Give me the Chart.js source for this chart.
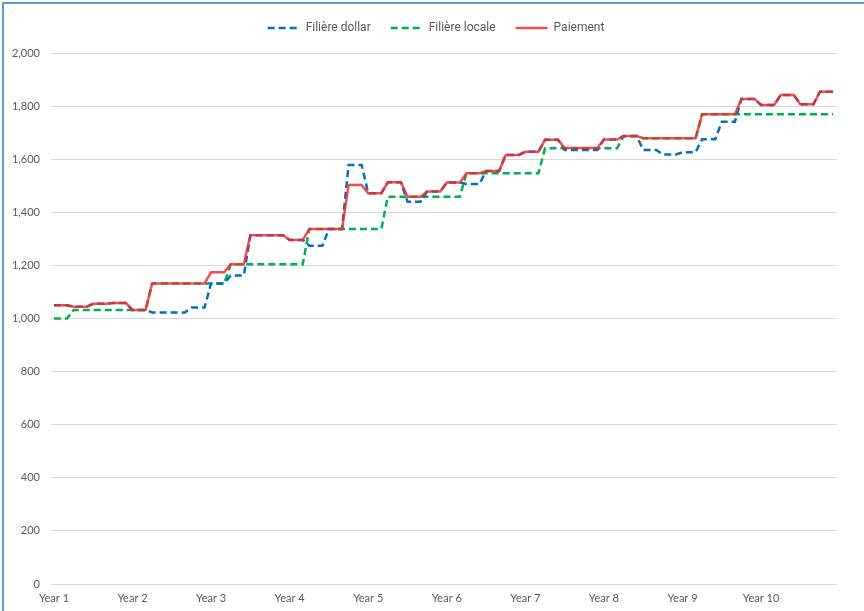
<!DOCTYPE html>
<html>
<head>
<meta charset="utf-8">
<script src="https://cdn.jsdelivr.net/npm/chart.js@4.4.1/dist/chart.umd.min.js"></script>
<style>
  html, body { margin: 0; padding: 0; background: #fff; }
  #wrap { position: absolute; left: 0; top: 0; width: 864px; height: 611px; }
  #frame {
    position: absolute; left: 2px; top: 2px; width: 862px; height: 609px;
    border-left: 2px solid #5b9bd5; border-top: 2px solid #5b9bd5;
    box-sizing: border-box; pointer-events: none;
  }
</style>
</head>
<body>
<div id="wrap"><canvas id="chart" width="864" height="611"></canvas></div>
<div id="frame"></div>
<script>
// monthly values, one row per year
const filiereDollar = [
  1050, 1050, 1050, 1044, 1044, 1044, 1056, 1056, 1056, 1058, 1058, 1058,
  1032, 1032, 1032, 1023, 1023, 1023, 1023, 1023, 1023, 1041, 1041, 1041,
  1132, 1132, 1132, 1162, 1162, 1162, 1314, 1314, 1314, 1314, 1314, 1314,
  1296, 1296, 1296, 1274, 1274, 1274, 1337, 1337, 1337, 1578, 1578, 1578,
  1472, 1472, 1472, 1513, 1513, 1513, 1440, 1440, 1440, 1478, 1478, 1478,
  1512, 1512, 1512, 1507, 1507, 1507, 1556, 1556, 1556, 1616, 1616, 1616,
  1628, 1628, 1628, 1673, 1673, 1673, 1635, 1635, 1635, 1635, 1635, 1635,
  1674, 1674, 1674, 1687, 1687, 1687, 1635, 1635, 1635, 1618, 1618, 1618,
  1626, 1626, 1626, 1675, 1675, 1675, 1741, 1741, 1741, 1827, 1827, 1827,
  1804, 1804, 1804, 1842, 1842, 1842, 1807, 1807, 1807, 1854, 1854, 1854
];

const filiereLocale = [
  1000, 1000, 1000, 1032, 1032, 1032, 1032, 1032, 1032, 1032, 1032, 1032,
  1032, 1032, 1032, 1132, 1132, 1132, 1132, 1132, 1132, 1132, 1132, 1132,
  1132, 1132, 1132, 1204, 1204, 1204, 1204, 1204, 1204, 1204, 1204, 1204,
  1204, 1204, 1204, 1337, 1337, 1337, 1337, 1337, 1337, 1337, 1337, 1337,
  1337, 1337, 1337, 1459, 1459, 1459, 1459, 1459, 1459, 1459, 1459, 1459,
  1459, 1459, 1459, 1547, 1547, 1547, 1547, 1547, 1547, 1547, 1547, 1547,
  1547, 1547, 1547, 1641, 1641, 1641, 1641, 1641, 1641, 1641, 1641, 1641,
  1641, 1641, 1641, 1686, 1686, 1686, 1679, 1679, 1679, 1679, 1679, 1679,
  1679, 1679, 1679, 1769, 1769, 1769, 1769, 1769, 1769, 1769, 1769, 1769,
  1769, 1769, 1769, 1769, 1769, 1769, 1769, 1769, 1769, 1769, 1769, 1769
];

const paiement = [
  1050, 1050, 1050, 1044, 1044, 1044, 1056, 1056, 1056, 1058, 1058, 1058,
  1032, 1032, 1032, 1132, 1132, 1132, 1132, 1132, 1132, 1132, 1132, 1132,
  1174, 1174, 1174, 1204, 1204, 1204, 1314, 1314, 1314, 1314, 1314, 1314,
  1296, 1296, 1296, 1337, 1337, 1337, 1337, 1337, 1337, 1503, 1503, 1503,
  1472, 1472, 1472, 1513, 1513, 1513, 1459, 1459, 1459, 1478, 1478, 1478,
  1512, 1512, 1512, 1547, 1547, 1547, 1556, 1556, 1556, 1616, 1616, 1616,
  1628, 1628, 1628, 1673, 1673, 1673, 1642, 1642, 1642, 1642, 1642, 1642,
  1674, 1674, 1674, 1687, 1687, 1687, 1679, 1679, 1679, 1679, 1679, 1679,
  1679, 1679, 1679, 1769, 1769, 1769, 1769, 1769, 1769, 1827, 1827, 1827,
  1804, 1804, 1804, 1842, 1842, 1842, 1807, 1807, 1807, 1854, 1854, 1854
];

const yearLabels = ['Year 1', 'Year 2', 'Year 3', 'Year 4', 'Year 5', 'Year 6', 'Year 7', 'Year 8', 'Year 9', 'Year 10'];
const yearTicks = [0, 12, 24, 36, 48, 60, 72, 84, 96, 108];

const textColor = '#595959';
const tickFont = { family: 'Lato', size: 11 };
const legendFont = { family: 'Roboto', size: 12 };

function toPoints(values) {
    return values.map((v, i) => ({ x: i, y: v }));
}

// extra room under the legend, and legend centred on the whole frame
const legendSpacing = {
    id: 'legendSpacing',
    beforeInit(chart) {
        const fit = chart.legend.fit;
        chart.legend.fit = function () {
            fit.call(this);
            this.height += 9;
        };
    },
    afterLayout(chart) {
        const legend = chart.legend;
        const shift = 436 - (legend.left + legend.right) / 2;
        legend.left += shift;
        legend.right += shift;
    }
};

const ctx = document.getElementById('chart').getContext('2d');
new Chart(ctx, {
    type: 'line',
    data: {
        datasets: [
            {
                label: 'Filière dollar',
                data: toPoints(filiereDollar),
                borderColor: '#0070c0',
                borderWidth: 2.5,
                borderDash: [7, 4],
                order: 1
            },
            {
                label: 'Filière locale',
                data: toPoints(filiereLocale),
                borderColor: '#00b050',
                borderWidth: 2.5,
                borderDash: [7, 4],
                order: 2
            },
            {
                label: 'Paiement',
                data: toPoints(paiement),
                borderColor: 'rgba(245, 40, 40, 0.82)',
                borderWidth: 2.5,
                order: 0
            }
        ]
    },
    options: {
        responsive: false,
        animation: false,
        elements: {
            point: { radius: 0, hoverRadius: 0 },
            line: { fill: false, tension: 0 }
        },
        layout: { padding: { left: 0, right: 27, top: 2, bottom: 6 } },
        plugins: {
            legend: {
                position: 'top',
                labels: {
                    usePointStyle: true,
                    pointStyle: 'line',
                    pointStyleWidth: 32,
                    padding: 20,
                    color: textColor,
                    font: legendFont,
                    sort: (a, b) => a.datasetIndex - b.datasetIndex,
                    generateLabels: chart => {
                        const items = Chart.defaults.plugins.legend.labels.generateLabels(chart);
                        items.forEach(item => {
                            const ds = chart.data.datasets[item.datasetIndex];
                            item.lineDash = ds.borderDash || [];
                            item.lineWidth = ds.borderWidth;
                            item.strokeStyle = ds.borderColor;
                        });
                        return items;
                    }
                }
            },
            tooltip: { enabled: false }
        },
        scales: {
            x: {
                type: 'linear',
                min: -0.45,
                max: 119.6,
                grid: { display: false, drawTicks: false },
                border: { display: false },
                afterBuildTicks: axis => { axis.ticks = yearTicks.map(v => ({ value: v })); },
                afterFit: axis => { axis.height = 21; },
                ticks: {
                    autoSkip: false,
                    maxRotation: 0,
                    padding: 8,
                    color: textColor,
                    font: tickFont,
                    callback: value => yearLabels[yearTicks.indexOf(value)]
                }
            },
            y: {
                min: 0,
                max: 2000,
                afterFit: axis => { axis.width = 51; },
                grid: { color: '#d9d9d9', drawTicks: false },
                border: { display: false },
                ticks: {
                    stepSize: 200,
                    padding: 11,
                    color: textColor,
                    font: tickFont,
                    callback: value => value.toLocaleString('en-US')
                }
            }
        }
    },
    plugins: [legendSpacing]
});
</script>
</body>
</html>
